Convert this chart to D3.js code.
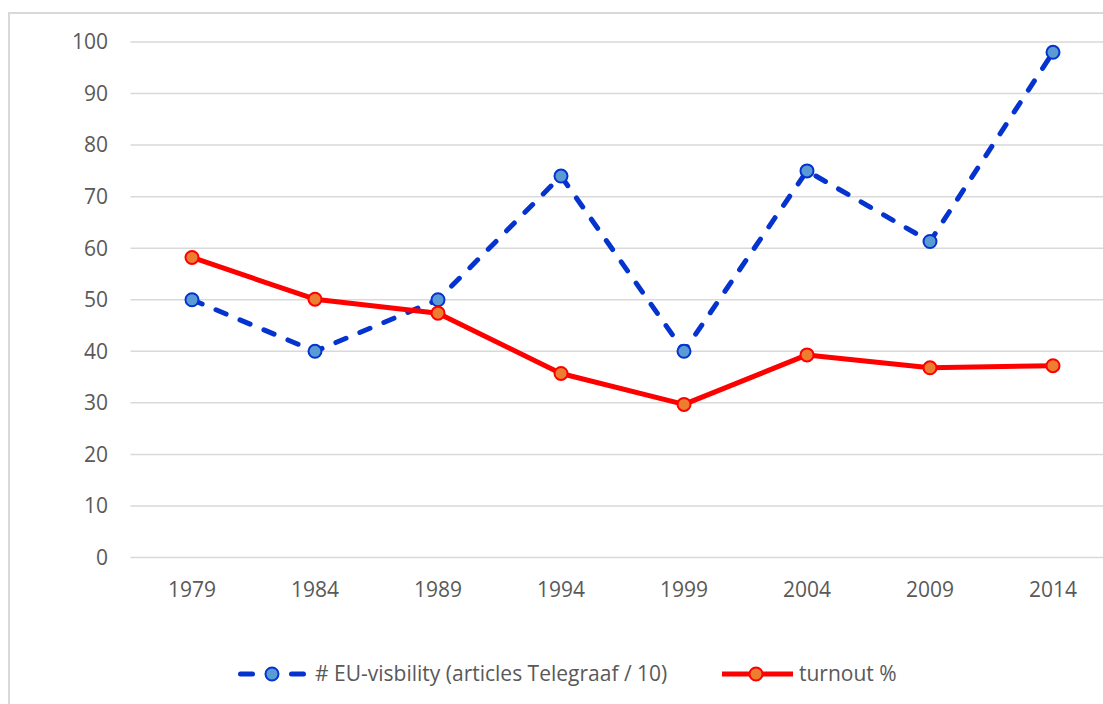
<!DOCTYPE html>
<meta charset="utf-8">
<style>
  body { margin: 0; background: #fff; }
  text { font-family: "Open Sans", sans-serif; fill: #595959; }
</style>
<body>
<svg width="1103" height="704"></svg>
<script src="https://d3js.org/d3.v7.min.js"></script>
<script>

var years = ["1979", "1984", "1989", "1994", "1999", "2004", "2009", "2014"];
var visibility = [50, 40, 50, 74, 40, 75, 61.3, 98];
var turnout = [58.2, 50.1, 47.4, 35.7, 29.7, 39.3, 36.8, 37.2];
var yTicks = [0, 10, 20, 30, 40, 50, 60, 70, 80, 90, 100];
var seriesNames = ["# EU-visbility (articles Telegraaf / 10)", "turnout %"];

var svg = d3.select("svg");

// chart border
svg.append("rect")
    .attr("x", 9).attr("y", 13)
    .attr("width", 1200).attr("height", 800)
    .attr("fill", "none")
    .attr("stroke", "#d9d9d9")
    .attr("stroke-width", 2);

var x = d3.scalePoint()
    .domain(years)
    .range([192, 1053]);

var y = d3.scaleLinear()
    .domain([0, 100])
    .range([557.5, 42]);

var step = x.step();

// gridlines
svg.append("g")
  .selectAll("line")
  .data(yTicks)
  .enter().append("line")
    .attr("x1", x(years[0]) - step / 2)
    .attr("x2", x(years[years.length - 1]) + step / 2)
    .attr("y1", function(d) { return y(d); })
    .attr("y2", function(d) { return y(d); })
    .attr("stroke", "#d9d9d9")
    .attr("stroke-width", 1.5);

// y labels
svg.append("g")
  .selectAll("text")
  .data(yTicks)
  .enter().append("text")
    .attr("x", 108)
    .attr("y", function(d) { return y(d); })
    .attr("dy", "0.35em")
    .attr("text-anchor", "end")
    .style("font-size", "21px")
    .text(function(d) { return d; });

// x labels
svg.append("g")
  .selectAll("text")
  .data(years)
  .enter().append("text")
    .attr("x", function(d) { return x(d); })
    .attr("y", 590)
    .attr("dy", "0.35em")
    .attr("text-anchor", "middle")
    .style("font-size", "21px")
    .text(function(d) { return d; });

var line = d3.line()
    .x(function(d, i) { return x(years[i]); })
    .y(function(d) { return y(d); });

var styles = [
  { data: visibility, stroke: "#0433d0", fill: "#5b9bd5", dash: "11,15" },
  { data: turnout, stroke: "#ff0000", fill: "#ed7d31", dash: null }
];

styles.forEach(function(s) {
  svg.append("path")
      .attr("d", line(s.data))
      .attr("fill", "none")
      .attr("stroke", s.stroke)
      .attr("stroke-width", 5)
      .attr("stroke-linecap", s.dash ? "round" : "butt")
      .attr("stroke-linejoin", "round")
      .attr("stroke-dasharray", s.dash);

  svg.append("g")
    .selectAll("circle")
    .data(s.data)
    .enter().append("circle")
      .attr("cx", function(d, i) { return x(years[i]); })
      .attr("cy", function(d) { return y(d); })
      .attr("r", 6.5)
      .attr("fill", s.fill)
      .attr("stroke", s.stroke)
      .attr("stroke-width", 2);
});

// legend
var legendX = [238, 722];
var legend = svg.append("g")
  .selectAll("g")
  .data(styles)
  .enter().append("g")
    .attr("transform", function(d, i) { return "translate(" + legendX[i] + ",674)"; });

legend.append("line")
    .attr("x1", function(d) { return d.dash ? 2.5 : 0; })
    .attr("x2", function(d) { return d.dash ? 65.5 : 71; })
    .attr("stroke", function(d) { return d.stroke; })
    .attr("stroke-width", 5)
    .attr("stroke-linecap", function(d) { return d.dash ? "round" : "butt"; })
    .attr("stroke-dasharray", function(d) { return d.dash ? "12,39" : null; });

legend.append("circle")
    .attr("cx", 34)
    .attr("r", 6.5)
    .attr("fill", function(d) { return d.fill; })
    .attr("stroke", function(d) { return d.stroke; })
    .attr("stroke-width", 2);

legend.append("text")
    .attr("x", 77)
    .attr("dy", "0.35em")
    .style("font-size", "21px")
    .text(function(d, i) { return seriesNames[i]; });

</script>
</body>
